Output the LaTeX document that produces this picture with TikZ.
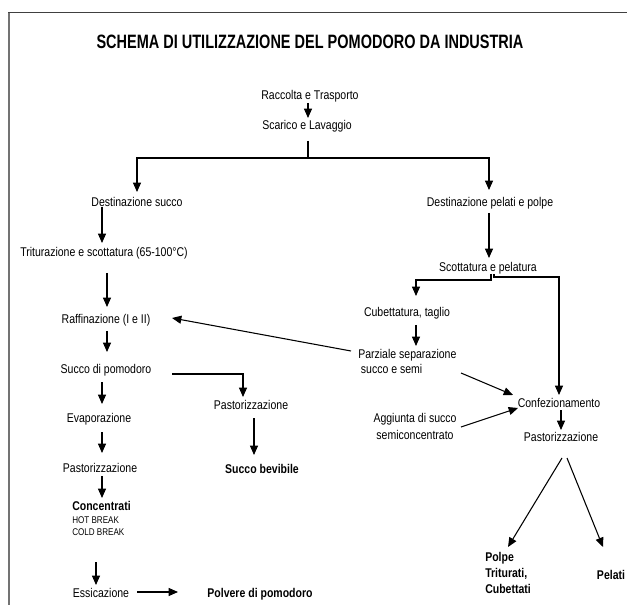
\documentclass[tikz,border=0pt]{standalone}
\usepackage{fontspec}
\setmainfont{Liberation Sans}[FakeStretch=0.83]
\newfontfamily\titlefont{Liberation Sans}[FakeStretch=0.75]
\usetikzlibrary{arrows.meta,calc}
\begin{document}
\begin{tikzpicture}[x=0.75pt,y=-0.75pt,
  lbl/.style={inner sep=0pt, font=\fontsize{9.5}{11}\selectfont, text height=6.9pt, text depth=2pt},
  blbl/.style={lbl, font=\fontsize{9.5}{11}\selectfont\bfseries},
  multi/.style={inner sep=0pt, anchor=north west, align=left},
  arr/.style={-{Triangle[width=6pt,length=7pt]}, line width=0.8pt},
  ln/.style={line width=0.8pt}]
\useasboundingbox (0,0) rectangle (627,605);
% frame
\draw[line width=1.5pt, draw=black!55] (8.5,605) -- (8.5,12.5);
\draw[line width=1.1pt, draw=black!75] (8,12.5) -- (627,12.5);

% title
\node[inner sep=0pt, font=\titlefont\fontsize{14.5}{16}\selectfont\bfseries] (title) at (310,42) {SCHEMA DI UTILIZZAZIONE DEL POMODORO DA INDUSTRIA};

% nodes
\node[lbl] (rac) at (310,96) {Raccolta e Trasporto};
\node[lbl] (sca) at (307,126) {Scarico e Lavaggio};
\node[lbl] (dsu) at (137,203) {Destinazione succo};
\node[lbl] (tri) at (104,253) {Triturazione e scottatura (65-100°C)};
\node[lbl] (raf) at (106,320) {Raffinazione (I e II)};
\node[lbl] (suc) at (106,370) {Succo di pomodoro};
\node[lbl] (eva) at (99,419) {Evaporazione};
\node[lbl] (pas1) at (100,469) {Pastorizzazione};
\node[multi, font=\fontsize{9.5}{11}\selectfont] (conc) at (72,501) {\textbf{Concentrati}\\[-1pt]{\fontsize{7.3}{8.5}\selectfont HOT BREAK}\\[-2pt]{\fontsize{7.3}{8.5}\selectfont COLD BREAK}};
\node[lbl] (ess) at (101,594) {Essicazione};
\node[blbl] (pol) at (260,594) {Polvere di pomodoro};
\node[lbl] (pas2) at (251,406) {Pastorizzazione};
\node[blbl] (sbev) at (262,470) {Succo bevibile};

\node[lbl] (dpp) at (490,203) {Destinazione pelati e polpe};
\node[lbl] (sco) at (488,268) {Scottatura e pelatura};
\node[lbl] (cub) at (407,313) {Cubettatura, taglio};
\node[multi, font=\fontsize{9.5}{11.25}\selectfont] (par) at (358,349) {Parziale separazione\\\hspace{2pt}succo e semi};
\node[inner sep=0pt, align=center, font=\fontsize{9.5}{12.75}\selectfont] (agg) at (415,426) {Aggiunta di succo\\semiconcentrato};
\node[lbl] (conf) at (559,404) {Confezionamento};
\node[lbl] (pas3) at (561,438) {Pastorizzazione};
\node[multi, font=\fontsize{9.5}{12}\selectfont\bfseries] (polpe) at (485,552) {Polpe\\Triturati,\\Cubettati};
\node[blbl] (pel) at (611,576) {Pelati};

% connectors
\draw[arr] ($(rac)+(-2,7)$) -- ($(sca)+(1,-8)$);
\draw[arr] ($(sca)+(1,15)$) -- ++(0,17) -| ($(dsu)+(0,-11)$);
\draw[arr] ($(sca)+(1,15)$) -- ++(0,17) -| ($(dpp)+(-1,-13)$);
\draw[arr] ($(dsu)+(-35,4)$) -- ($(tri)+(-2,-10)$);
\draw[arr] ($(tri)+(3,20)$) -- ($(raf)+(1,-13)$);
\draw[arr] ($(raf)+(1,11)$) -- ($(suc)+(1,-18)$);
\draw[arr] ($(suc)+(-4,12)$) -- ($(eva)+(3,-15)$);
\draw[arr] ($(eva)+(3,13)$) -- ($(pas1)+(2,-16)$);
\draw[arr] ($(pas1)+(2,7)$) -- ($(conc.north west)+(30,-3)$);
\draw[arr] ($(conc.north west)+(24,61)$) -- ($(ess)+(-5,-9)$);
\draw[arr] ($(ess)+(36,-2)$) -- ($(pol)+(-82,-2)$);
\draw[arr] ($(suc)+(66,4)$) -| ($(pas2)+(-8,-9)$);
\draw[arr] ($(pas2)+(3,12)$) -- ($(sbev)+(-8,-15)$);

\draw[arr] ($(dpp)+(-1,10)$) -- ($(sco)+(1,-10)$);
\draw[arr] ($(sco)+(3,6)$) -- ++(0,6) -| ($(cub)+(9,-17)$);
\draw[arr] ($(sco)+(6,6)$) -- ++(0,3) -| ($(conf)+(0,-9)$);
\draw[arr] ($(cub)+(9,12)$) -- ($(par.north west)+(58,-3)$);
\draw[arr] ($(par.north west)+(-7,2)$) -- ($(raf)+(66,-2)$);
\draw[arr] ($(par.north west)+(103,24)$) -- ($(conf)+(-46,-9)$);
\draw[arr] ($(agg)+(46,1)$) -- ($(conf)+(-41,4)$);
\draw[arr] ($(conf)+(2,6)$) -- ($(pas3)+(0,-8)$);
\draw[arr] ($(pas3)+(1,20)$) -- ($(polpe.north west)+(23,-5)$);
\draw[arr] ($(pas3)+(6,20)$) -- ($(pel)+(-8,-29)$);
\end{tikzpicture}
\end{document}
